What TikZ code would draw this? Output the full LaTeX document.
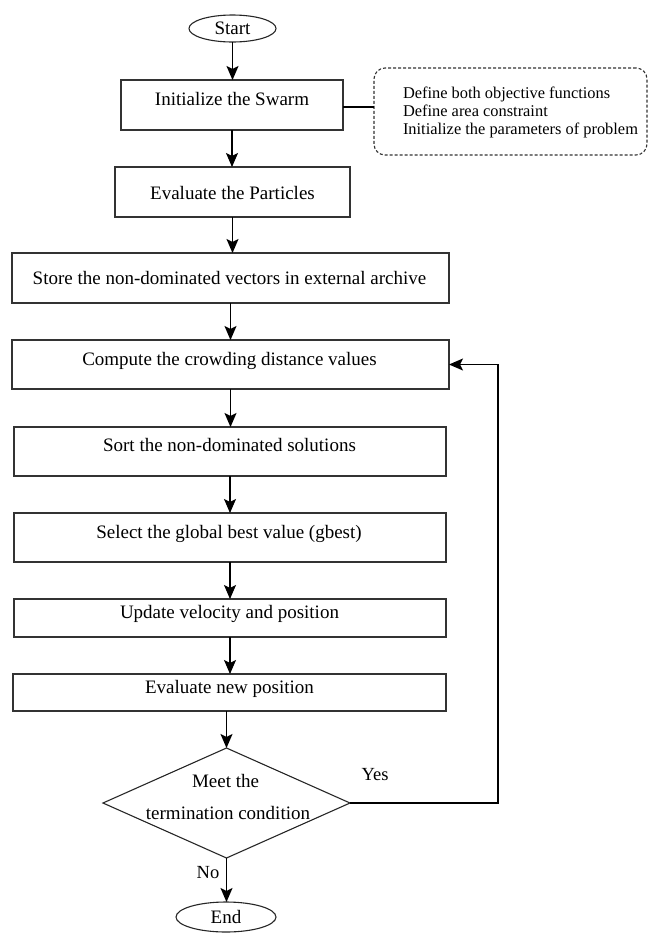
\documentclass[tikz,border=0pt]{standalone}
\usepackage{fontspec}
\setmainfont{Liberation Serif}
\usetikzlibrary{shapes.geometric,arrows.meta}
\begin{document}
\begin{tikzpicture}[x=1pt,y=1pt,
  every node/.style={inner sep=0pt, outer sep=0pt},
  line/.style={draw=black, line width=1.15pt},
  arr/.style={line, -{Stealth[length=14pt,width=12pt,inset=3pt]}},
  procbox/.style={draw=black!80, line width=1.2pt, rectangle},
  term/.style={draw=black!85, line width=1.1pt, ellipse},
  txt/.style={anchor=base, font=\fontsize{19}{22}\selectfont, text=black},
  lbl/.style={anchor=base, font=\fontsize{18.5}{22}\selectfont, text=black},
  notebox/.style={draw=black!80, line width=1.1pt, rectangle, rounded corners=11pt, dash pattern=on 3pt off 2pt}
]
\useasboundingbox (0,0) rectangle (650,-935);

% terminals
\node[term, minimum width=87, minimum height=27] (start) at (232.5,-28.5) {};
\node[txt] (startT) at (232.5,-34) {Start};

% process boxes
\node[procbox, minimum width=222, minimum height=50] (init) at (232,-105) {};
\node[txt] (initT) at (232,-105.5) {Initialize the Swarm};

\node[procbox, minimum width=235, minimum height=50] (evalP) at (232.5,-192) {};
\node[txt] (evalPT) at (232.5,-199.5) {Evaluate the Particles};

\node[procbox, minimum width=437, minimum height=50] (store) at (230.5,-278) {};
\node[txt] (storeT) at (229.5,-284.5) {Store the non-dominated vectors in external archive};

\node[procbox, minimum width=437, minimum height=49] (compute) at (230.5,-364.5) {};
\node[txt] (computeT) at (229.5,-365.5) {Compute the crowding distance values};

\node[procbox, minimum width=432, minimum height=49] (sort) at (230,-451.5) {};
\node[txt] (sortT) at (229.5,-451.5) {Sort the non-dominated solutions};

\node[procbox, minimum width=432, minimum height=49] (select) at (230,-537.5) {};
\node[txt] (selectT) at (229,-538.5) {Select the global best value (gbest)};

\node[procbox, minimum width=432, minimum height=38] (update) at (230,-618) {};
\node[txt] (updateT) at (229.5,-618.5) {Update velocity and position};

\node[procbox, minimum width=433, minimum height=37] (evalN) at (229.5,-692.5) {};
\node[txt] (evalNT) at (229.5,-693.5) {Evaluate new position};

% decision
\node[draw=black!85, line width=1.1pt, diamond, minimum width=247, minimum height=110] (dec) at (226.5,-803) {};
\node[txt] (decT1) at (225.5,-787.5) {Meet the};
\node[txt] (decT2) at (228,-819.5) {termination condition};

\node[term, minimum width=100, minimum height=30] (end) at (226,-917) {};
\node[txt] (endT) at (226,-923.5) {End};

% note
\node[notebox, minimum width=273, minimum height=87] (note) at (510.5,-111.5) {};
\node[anchor=west, align=left, font=\fontsize{16.4}{18}\selectfont] (noteT) at (403,-112.5)
  {Define both objective functions\\Define area constraint\\Initialize the parameters of problem};

% connectors
\draw[arr] (start.south) -- (start.south |- init.north);
\draw[arr] (init.south) -- (init.south |- evalP.north);
\draw[arr] (evalP.south) -- (evalP.south |- store.north);
\draw[arr] (store.south) -- (store.south |- compute.north);
\draw[arr] (compute.south) -- (compute.south |- sort.north);
\draw[arr] (sort.south) -- (sort.south |- select.north);
\draw[arr] (select.south) -- (select.south |- update.north);
\draw[arr] (update.south) -- (update.south |- evalN.north);
\draw[arr] (dec.north |- evalN.south) -- (dec.north);
\draw[arr] (dec.south) -- (dec.south |- end.north);
\draw[line] ([yshift=-2pt]init.east) -- ([yshift=-2pt]init.east -| note.west);
\coordinate (loopC) at (498,-803);
\draw[arr] (dec.east) -- (loopC) |- (compute.east);

% labels
\node[lbl] (yes) at (375,-780.5) {Yes};
\node[lbl] (no) at (208,-878.5) {No};
\end{tikzpicture}
\end{document}
